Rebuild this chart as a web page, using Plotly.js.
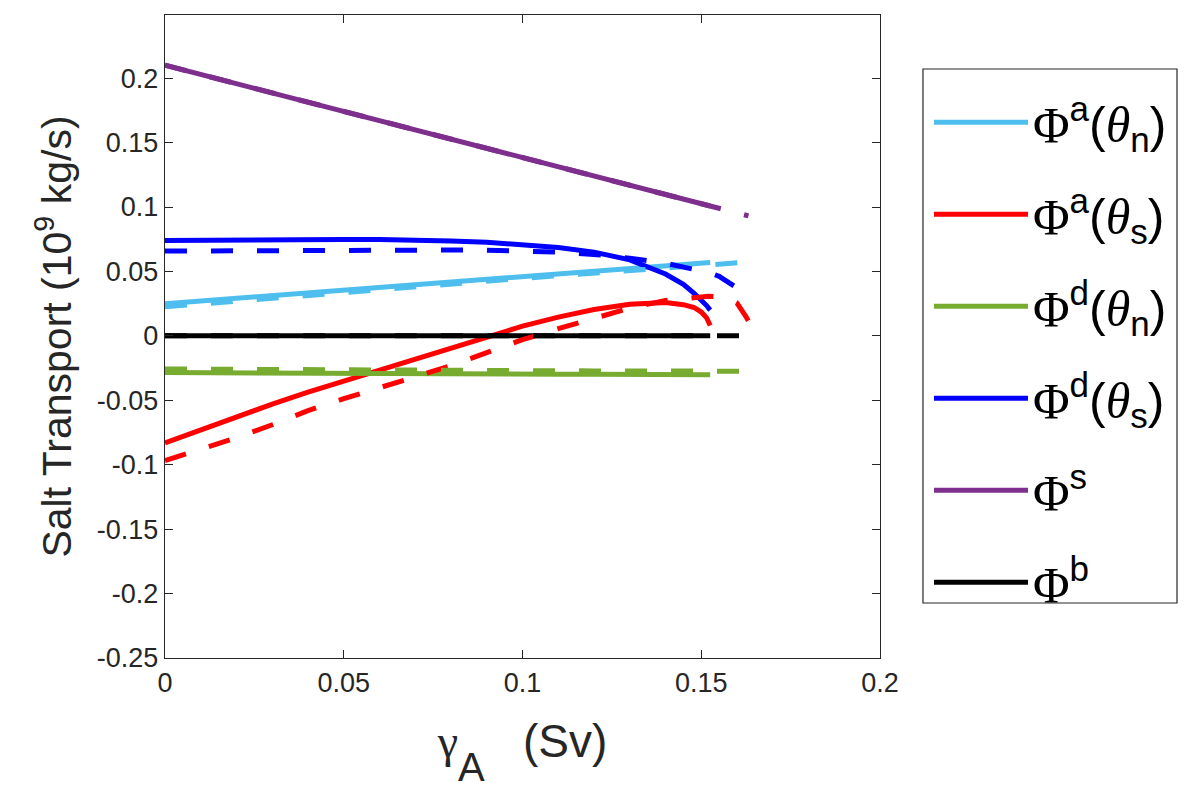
<!DOCTYPE html>
<html>
<head>
<meta charset="utf-8">
<script src="https://cdn.plot.ly/plotly-3.0.1.min.js"></script>
<style>
body { margin: 0; background: #fff; }
#plot { width: 1200px; height: 799px; }
</style>
</head>
<body>
<div id="plot"></div>
<script>
// gamma_A (Sv): first branch drawn solid, second branch drawn dashed
const gammaSolid = [0, 0.01, 0.02, 0.03, 0.04, 0.05, 0.06, 0.07, 0.08, 0.09, 0.10,
	0.11, 0.12, 0.13, 0.14, 0.145, 0.148, 0.15, 0.1515, 0.1525];
const gammaDashed = [0, 0.01, 0.02, 0.03, 0.04, 0.05, 0.06, 0.07, 0.08, 0.09, 0.10,
	0.11, 0.12, 0.13, 0.14, 0.15, 0.152, 0.155, 0.158, 0.16, 0.1615, 0.1625, 0.1632];

// salt transport (10^9 kg/s), solid branch
const advNorthSolid = [0.0250, 0.0271, 0.0292, 0.0313, 0.0334, 0.0355, 0.0376, 0.0397, 0.0418, 0.0439, 0.0460,
	0.0481, 0.0502, 0.0523, 0.0544, 0.0555, 0.0561, 0.0565, 0.0568, 0.0570];
const advSouthSolid = [-0.0830, -0.0727, -0.0628, -0.0530, -0.0437, -0.0350, -0.0265, -0.0178, -0.0093, -0.0010, 0.0075,
	0.0145, 0.0205, 0.0245, 0.0258, 0.0242, 0.0220, 0.0185, 0.0140, 0.0080];
const diffNorthSolid = [-0.0285, -0.0287, -0.0288, -0.0290, -0.0291, -0.0292, -0.0293, -0.0294, -0.0295, -0.0296, -0.0297,
	-0.0298, -0.0298, -0.0299, -0.0300, -0.0300, -0.0300, -0.0300, -0.0301, -0.0301];
const diffSouthSolid = [0.0740, 0.0743, 0.0745, 0.0747, 0.0748, 0.0748, 0.0747, 0.0744, 0.0737, 0.0727, 0.0710,
	0.0685, 0.0650, 0.0590, 0.0480, 0.0400, 0.0330, 0.0280, 0.0235, 0.0200];
const surfSolid = [0.2100, 0.2028, 0.1957, 0.1885, 0.1814, 0.1742, 0.1670, 0.1599, 0.1527, 0.1456, 0.1384,
	0.1312, 0.1241, 0.1169, 0.1098, 0.1062, 0.1040, 0.1026, 0.1015, 0.1008];
const bottomSolid = [0, 0, 0, 0, 0, 0, 0, 0, 0, 0, 0, 0, 0, 0, 0, 0, 0, 0, 0, 0];

// salt transport (10^9 kg/s), dashed branch
const advNorthDashed = [0.0225, 0.0248, 0.0270, 0.0292, 0.0314, 0.0336, 0.0358, 0.0380, 0.0402, 0.0424, 0.0446,
	0.0467, 0.0488, 0.0510, 0.0531, 0.0552, 0.0556, 0.0561, 0.0566, 0.0569, 0.0571, 0.0572, 0.0573];
const advSouthDashed = [-0.0968, -0.0880, -0.0790, -0.0690, -0.0580, -0.0488, -0.0403, -0.0320, -0.0232, -0.0130, -0.0030,
	0.0056, 0.0137, 0.0215, 0.0275, 0.0303, 0.0307, 0.0305, 0.0288, 0.0255, 0.0200, 0.0150, 0.0115];
const diffNorthDashed = [-0.0257, -0.0259, -0.0260, -0.0262, -0.0263, -0.0264, -0.0266, -0.0267, -0.0268, -0.0269, -0.0270,
	-0.0271, -0.0272, -0.0272, -0.0273, -0.0274, -0.0274, -0.0274, -0.0275, -0.0275, -0.0275, -0.0275, -0.0275];
const diffSouthDashed = [0.0658, 0.0660, 0.0662, 0.0663, 0.0664, 0.0665, 0.0666, 0.0666, 0.0666, 0.0665, 0.0662,
	0.0650, 0.0632, 0.0603, 0.0563, 0.0506, 0.0493, 0.0462, 0.0412, 0.0372, 0.0338, 0.0295, 0.0255];
const surfDashed = [0.2100, 0.2028, 0.1957, 0.1885, 0.1814, 0.1742, 0.1670, 0.1599, 0.1527, 0.1456, 0.1384,
	0.1312, 0.1241, 0.1169, 0.1098, 0.1026, 0.1012, 0.0990, 0.0969, 0.0954, 0.0944, 0.0936, 0.0931];
const bottomDashed = [0, 0, 0, 0, 0, 0, 0, 0, 0, 0, 0, 0, 0, 0, 0, 0, 0, 0, 0, 0, 0, 0, 0];

const yTicks = [-0.25, -0.2, -0.15, -0.1, -0.05, 0, 0.05, 0.1, 0.15, 0.2];
const yTickText = ['-0.25', '-0.2', '-0.15', '-0.1', '-0.05', '0', '0.05', '0.1', '0.15', '0.2'];
const xTicks = [0, 0.05, 0.1, 0.15, 0.2];
const xTickText = ['0', '0.05', '0.1', '0.15', '0.2'];

const PHI = "<span style='font-family:Liberation Serif'>Φ</span>";
const THETA = "<span style='font-family:Liberation Serif;font-style:italic'>θ</span>";

const series = [
	{name: PHI + '<sup>a</sup>(' + THETA + '<sub>n</sub>)', color: '#4DBEEE', solid: advNorthSolid, dashed: advNorthDashed},
	{name: PHI + '<sup>a</sup>(' + THETA + '<sub>s</sub>)', color: '#FF0000', solid: advSouthSolid, dashed: advSouthDashed},
	{name: PHI + '<sup>d</sup>(' + THETA + '<sub>n</sub>)', color: '#77AC30', solid: diffNorthSolid, dashed: diffNorthDashed},
	{name: PHI + '<sup>d</sup>(' + THETA + '<sub>s</sub>)', color: '#0000FF', solid: diffSouthSolid, dashed: diffSouthDashed},
	{name: PHI + '<sup>s</sup>', color: '#7E2F8E', solid: surfSolid, dashed: surfDashed},
	{name: PHI + '<sup>b</sup>', color: '#000000', solid: bottomSolid, dashed: bottomDashed}
];

const traces = [];
series.forEach(function (s, i) {
	traces.push({
		x: gammaSolid, y: s.solid, type: 'scatter', mode: 'lines', name: s.name,
		legendgroup: 'g' + i, line: {color: s.color, width: 5}, hoverinfo: 'skip'
	});
});
series.forEach(function (s, i) {
	traces.push({
		x: gammaDashed, y: s.dashed, type: 'scatter', mode: 'lines', name: s.name,
		legendgroup: 'g' + i, showlegend: false,
		line: {color: s.color, width: 5, dash: '22px,24px'}, hoverinfo: 'skip'
	});
});

const axisFont = {family: 'Liberation Sans, Arial, sans-serif', size: 27, color: '#262626'};

const layout = {
	width: 1200,
	height: 799,
	margin: {l: 165, r: 320, t: 15, b: 141},
	paper_bgcolor: '#fff',
	plot_bgcolor: '#fff',
	font: {family: 'Liberation Sans, Arial, sans-serif', color: '#262626'},
	xaxis: {
		range: [0, 0.2],
		tickvals: xTicks,
		ticktext: xTickText,
		tickfont: axisFont,
		ticks: 'inside',
		ticklen: 8,
		tickcolor: '#262626',
		showline: true,
		linecolor: '#262626',
		linewidth: 1.2,
		mirror: 'ticks',
		showgrid: false,
		zeroline: false,
		title: {
			text: "<span style='font-family:Liberation Serif;font-size:46px'>γ</span><sub><span style='font-size:40px;baseline-shift:-14px'>A</span></sub>\u00A0\u00A0\u00A0(Sv)",
			font: {family: 'Liberation Sans, Arial, sans-serif', size: 46, color: '#262626'},
			standoff: 28
		}
	},
	yaxis: {
		range: [-0.25, 0.249],
		tickvals: yTicks,
		ticktext: yTickText,
		tickfont: axisFont,
		ticks: 'inside',
		ticklen: 8,
		tickcolor: '#262626',
		showline: true,
		linecolor: '#262626',
		linewidth: 1.2,
		mirror: 'ticks',
		showgrid: false,
		zeroline: false,
		title: {
			text: 'Salt Transport (10<sup>9</sup> kg/s)',
			font: {family: 'Liberation Sans, Arial, sans-serif', size: 41, color: '#262626'},
			standoff: 12
		}
	},
	legend: {
		x: 1.0685,
		y: 0.894,
		xanchor: 'left',
		yanchor: 'top',
		bgcolor: 'rgba(0,0,0,0)',
		borderwidth: 0,
		itemwidth: 94,
		tracegroupgap: 24,
		font: {family: 'Liberation Sans, Arial, sans-serif', size: 50, color: '#000'}
	},
	// legend frame
	shapes: [{
		type: 'rect', xref: 'paper', yref: 'paper',
		x0: 1.0601, x1: 1.4154, y0: 0.0855, y1: 0.916,
		line: {color: '#262626', width: 1.2}, fillcolor: 'rgba(0,0,0,0)'
	}],
	showlegend: true
};

Plotly.newPlot('plot', traces, layout, {displayModeBar: false, staticPlot: true});
</script>
</body>
</html>
